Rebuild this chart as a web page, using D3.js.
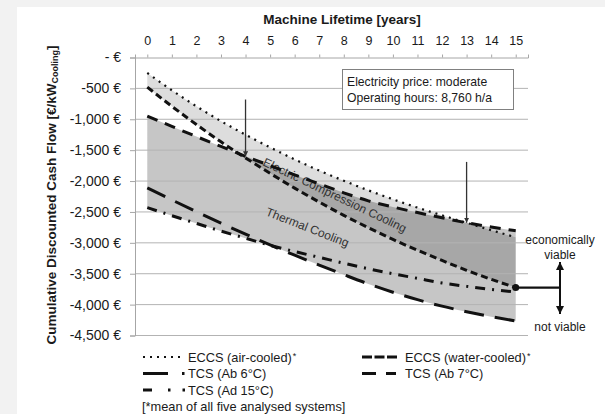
<!DOCTYPE html>
<html>
<head>
<meta charset="utf-8">
<script src="https://cdn.jsdelivr.net/npm/d3@7"></script>
<style>
  body { margin: 0; background: #f2f2f2; }
  svg { display: block; font-family: "Liberation Sans", Arial, sans-serif; }
</style>
</head>
<body>
<div id="chart"></div>
<script>
const years = [0, 1, 2, 3, 4, 5, 6, 7, 8, 9, 10, 11, 12, 13, 14, 15];
const eccsAir   = [-250, -530, -790, -1030, -1250, -1455, -1650, -1830, -1995, -2150, -2295, -2430, -2555, -2675, -2795, -2910];
const eccsWater = [-480, -790, -1085, -1365, -1625, -1875, -2115, -2340, -2555, -2755, -2945, -3120, -3285, -3445, -3590, -3725];
const tcsAb6    = [-2110, -2305, -2495, -2680, -2860, -3035, -3200, -3360, -3515, -3665, -3800, -3920, -4025, -4115, -4195, -4265];
const tcsAb7    = [-950, -1115, -1280, -1440, -1600, -1750, -1900, -2045, -2190, -2320, -2420, -2510, -2595, -2675, -2745, -2805];
const tcsAd15   = [-2430, -2560, -2685, -2810, -2925, -3040, -3140, -3235, -3330, -3420, -3500, -3575, -3650, -3705, -3755, -3795];
const yTicks = [0, -500, -1000, -1500, -2000, -2500, -3000, -3500, -4000, -4500];

const W = 605, H = 414;
const svg = d3.select("#chart").append("svg").attr("width", W).attr("height", H);

svg.append("rect").attr("x", 17).attr("y", 7).attr("width", W - 17).attr("height", H - 7).attr("fill", "#fff");

const x = d3.scaleLinear().domain([-0.5, 15.5]).range([135, 528]);
const y = d3.scaleLinear().domain([0, -4500]).range([57.5, 335.5]);

const defs = svg.append("defs");
defs.append("marker").attr("id", "tipS")
  .attr("viewBox", "0 0 10 10").attr("refX", 10).attr("refY", 5)
  .attr("markerWidth", 5).attr("markerHeight", 5).attr("markerUnits", "userSpaceOnUse")
  .attr("orient", "auto")
  .append("path").attr("d", "M0,0L10,5L0,10Z").attr("fill", "#333");
defs.append("marker").attr("id", "tipL")
  .attr("viewBox", "0 0 10 10").attr("refX", 10).attr("refY", 5)
  .attr("markerWidth", 9).attr("markerHeight", 8).attr("markerUnits", "userSpaceOnUse")
  .attr("orient", "auto-start-reverse")
  .append("path").attr("d", "M0,0L10,5L0,10Z").attr("fill", "#111");

// bands
const tcsAll = [tcsAb6, tcsAb7, tcsAd15];
const thermalArea = d3.area()
  .x((d, i) => x(years[i]))
  .y0((d, i) => y(d3.min(tcsAll, s => s[i])))
  .y1((d, i) => y(d3.max(tcsAll, s => s[i])))
  .curve(d3.curveMonotoneX);
const eccArea = d3.area()
  .x((d, i) => x(years[i]))
  .y0((d, i) => y(eccsWater[i]))
  .y1((d, i) => y(eccsAir[i]))
  .curve(d3.curveMonotoneX);

defs.append("clipPath").attr("id", "thermClip")
  .append("path").attr("d", thermalArea(years));

svg.append("path").attr("d", thermalArea(years)).attr("fill", "#c6c6c6");
svg.append("path").attr("d", eccArea(years)).attr("fill", "#dddddd");
svg.append("path").attr("d", eccArea(years)).attr("fill", "#a7a7a7").attr("clip-path", "url(#thermClip)");

// grid
svg.append("g").selectAll("line")
  .data(yTicks.slice(1)).enter().append("line")
  .attr("x1", x(-0.5)).attr("x2", x(15.5))
  .attr("y1", d => y(d)).attr("y2", d => y(d))
  .attr("stroke", "#b3b3b3").attr("stroke-width", 1);

// axes
const yAxis = d3.axisLeft(y).tickValues(yTicks).tickSize(5).tickPadding(9)
  .tickFormat(d => d === 0 ? "- €" : "-" + d3.format(",")(-d) + " €");
const gy = svg.append("g").attr("transform", "translate(" + x(-0.5) + ",0)").call(yAxis);
gy.select(".domain").attr("stroke", "#a6a6a6");
gy.selectAll(".tick line").attr("stroke", "#a6a6a6");
gy.selectAll("text").attr("font-size", 14).attr("fill", "#1a1a1a").attr("font-family", "Liberation Sans, Arial, sans-serif");

const xAxis = d3.axisTop(x).tickValues(years).tickSize(3).tickPadding(10).tickSizeOuter(3);
const gx = svg.append("g").attr("transform", "translate(0," + y(0) + ")").call(xAxis);
gx.select(".domain").attr("stroke", "#a6a6a6");
gx.selectAll(".tick line").attr("stroke", "#a6a6a6");
gx.selectAll("text").attr("font-size", 12.5).attr("fill", "#1a1a1a").attr("font-family", "Liberation Sans, Arial, sans-serif");

svg.append("text").attr("x", 342).attr("y", 24)
  .attr("text-anchor", "middle").attr("font-size", 13.5).attr("font-weight", "bold").attr("fill", "#1a1a1a")
  .text("Machine Lifetime [years]");

const yTitle = svg.append("text").attr("transform", "translate(56,195) rotate(-90)")
  .attr("text-anchor", "middle").attr("font-size", 13.5).attr("font-weight", "bold").attr("fill", "#1a1a1a");
yTitle.append("tspan").text("Cumulative Discounted Cash Flow [€/kW");
yTitle.append("tspan").attr("font-size", 9).attr("dy", 2).text("Cooling");
yTitle.append("tspan").attr("dy", -2).text("]");

// band labels
svg.append("text").attr("transform", "translate(262,165) rotate(25.5)")
  .attr("font-size", 12).attr("fill", "#333").text("Electric Compression Cooling");
svg.append("text").attr("transform", "translate(265,215) rotate(21.5)")
  .attr("font-size", 12).attr("fill", "#333").text("Thermal Cooling");

// series
const series = [
  { name: "ECCS (air-cooled)", star: true, data: eccsAir, dash: "2,5", width: 2.2, leg: "2,5", col: 0, row: 0, lx0: 143, lx1: 181 },
  { name: "ECCS (water-cooled)", star: true, data: eccsWater, dash: "7,4", width: 3, leg: "10,2.5", col: 1, row: 0, lx0: 362, lx1: 398 },
  { name: "TCS (Ab 6°C)", data: tcsAb6, dash: "20,11", width: 3, leg: "25,14,2.5,100", col: 0, row: 1, lx0: 143, lx1: 186 },
  { name: "TCS (Ab 7°C)", data: tcsAb7, dash: "11,8", width: 3, leg: "14,10,10,100", col: 1, row: 1, lx0: 362, lx1: 397 },
  { name: "TCS (Ad 15°C)", data: tcsAd15, dash: "10,7,2,7", width: 3, leg: "9,16,2.5,12,2.5,100", col: 0, row: 2, lx0: 143, lx1: 186 }
];

const line = d3.line().x((d, i) => x(years[i])).y(d => y(d)).curve(d3.curveMonotoneX);

svg.append("g").selectAll("path")
  .data(series).enter().append("path")
  .attr("d", d => line(d.data))
  .attr("fill", "none").attr("stroke", "#111")
  .attr("stroke-width", d => d.width).attr("stroke-dasharray", d => d.dash);

// arrows
svg.append("line").attr("x1", x(4)).attr("x2", x(4)).attr("y1", y(-680)).attr("y2", y(-1600))
  .attr("stroke", "#333").attr("stroke-width", 1.3).attr("marker-end", "url(#tipS)");
svg.append("line").attr("x1", x(13)).attr("x2", x(13)).attr("y1", y(-1690)).attr("y2", y(-2675))
  .attr("stroke", "#333").attr("stroke-width", 1.3).attr("marker-end", "url(#tipS)");

// viability marker
const endY = y(eccsWater[15]);
svg.append("line").attr("x1", x(15)).attr("x2", 560).attr("y1", endY).attr("y2", endY)
  .attr("stroke", "#111").attr("stroke-width", 2.2);
svg.append("circle").attr("cx", x(15)).attr("cy", endY).attr("r", 3.5).attr("fill", "#111");
svg.append("line").attr("x1", 560).attr("x2", 560).attr("y1", 262).attr("y2", 314)
  .attr("stroke", "#111").attr("stroke-width", 2)
  .attr("marker-start", "url(#tipL)").attr("marker-end", "url(#tipL)");
svg.append("text").attr("x", 560).attr("y", 244).attr("text-anchor", "middle").attr("font-size", 12).attr("fill", "#1a1a1a").text("economically");
svg.append("text").attr("x", 560).attr("y", 259).attr("text-anchor", "middle").attr("font-size", 12).attr("fill", "#1a1a1a").text("viable");
svg.append("text").attr("x", 560).attr("y", 331).attr("text-anchor", "middle").attr("font-size", 12).attr("fill", "#1a1a1a").text("not viable");

// info box
svg.append("rect").attr("x", 342.5).attr("y", 69.5).attr("width", 171).attr("height", 40)
  .attr("fill", "#fff").attr("stroke", "#808080").attr("stroke-width", 1);
svg.append("text").attr("x", 347).attr("y", 86).attr("font-size", 12.2).attr("fill", "#1a1a1a").text("Electricity price: moderate");
svg.append("text").attr("x", 347).attr("y", 102).attr("font-size", 12.2).attr("fill", "#1a1a1a").text("Operating hours: 8,760 h/a");

// legend
const rowY = [357, 373.5, 390];
const leg = svg.append("g").selectAll("g").data(series).enter().append("g");
leg.append("line")
  .attr("x1", d => d.lx0).attr("x2", d => d.lx1)
  .attr("y1", d => rowY[d.row]).attr("y2", d => rowY[d.row])
  .attr("stroke", "#111").attr("stroke-width", d => d.width).attr("stroke-dasharray", d => d.leg);
const lt = leg.append("text")
  .attr("x", d => d.col === 0 ? 188 : 405)
  .attr("y", d => rowY[d.row] + 4.5)
  .attr("font-size", 12.8).attr("fill", "#1a1a1a");
lt.append("tspan").text(d => d.name);
lt.filter(d => d.star).append("tspan").attr("font-size", 9).attr("dy", -3).attr("dx", 1).text("*");

svg.append("text").attr("x", 142).attr("y", 411).attr("font-size", 12.8).attr("fill", "#1a1a1a")
  .text("[*mean of all five analysed systems]");
</script>
</body>
</html>
